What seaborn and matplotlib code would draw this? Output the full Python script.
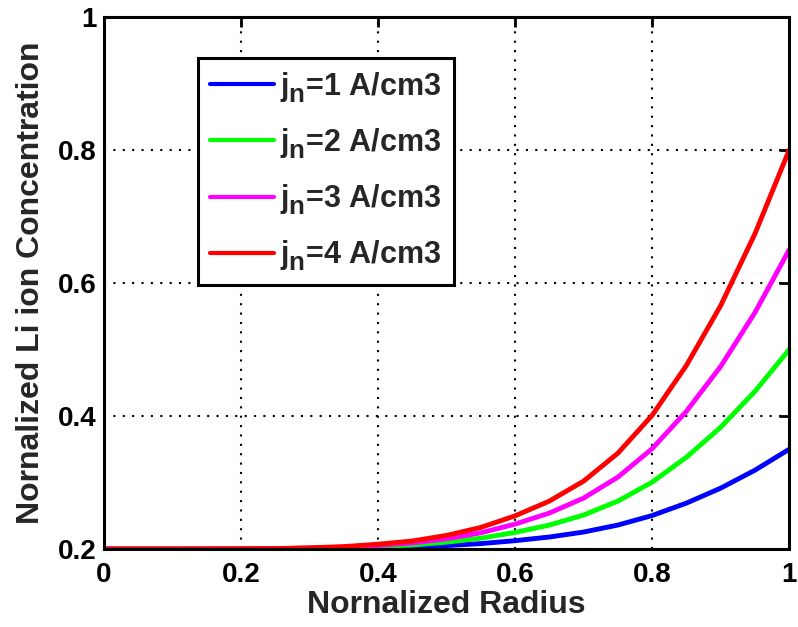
import matplotlib
matplotlib.use("Agg")
import matplotlib.pyplot as plt
import seaborn as sns
import pandas as pd

# values
radius = [0.0, 0.05, 0.10, 0.15, 0.20, 0.25, 0.30, 0.35, 0.40, 0.45, 0.50,
          0.55, 0.60, 0.65, 0.70, 0.75, 0.80, 0.85, 0.90, 0.95, 1.0]
conc_j1 = [0.2, 0.2, 0.2, 0.2, 0.2001, 0.2002, 0.2005, 0.2009, 0.2018, 0.203, 0.2051,
           0.2081, 0.2125, 0.218, 0.2255, 0.236, 0.2503, 0.269, 0.2915, 0.3185, 0.35]
conc_j2 = [0.2, 0.2, 0.2, 0.2001, 0.2002, 0.2003, 0.2009, 0.2018, 0.2036, 0.206, 0.2102,
           0.2162, 0.2249, 0.236, 0.251, 0.272, 0.3005, 0.338, 0.383, 0.437, 0.5]
conc_j3 = [0.2, 0.2, 0.2, 0.2001, 0.2002, 0.2005, 0.2014, 0.2027, 0.2054, 0.209, 0.2153,
           0.2243, 0.2374, 0.254, 0.2765, 0.308, 0.3508, 0.407, 0.4745, 0.5555, 0.65]
conc_j4 = [0.2, 0.2, 0.2, 0.2001, 0.2003, 0.2006, 0.2018, 0.2036, 0.2072, 0.212, 0.2204,
           0.2324, 0.2498, 0.272, 0.302, 0.344, 0.401, 0.476, 0.566, 0.674, 0.8]
labels = ["$j_n$=1 A/cm3", "$j_n$=2 A/cm3", "$j_n$=3 A/cm3", "$j_n$=4 A/cm3"]
colors = ["#0000ff", "#00ff00", "#ff00ff", "#ff0000"]

rows = []
for lab, vals in zip(labels, [conc_j1, conc_j2, conc_j3, conc_j4]):
    for r, c in zip(radius, vals):
        rows.append({"r": r, "c": c, "label": lab})
df = pd.DataFrame(rows)

sns.set_style("white")
plt.rcParams["font.family"] = ["Liberation Sans", "DejaVu Sans"]
plt.rcParams["font.weight"] = "bold"
plt.rcParams["mathtext.fontset"] = "custom"
plt.rcParams["mathtext.rm"] = "Liberation Sans:bold"
plt.rcParams["mathtext.it"] = "Liberation Sans:bold"
plt.rcParams["mathtext.bf"] = "Liberation Sans:bold"

# bigger, lower subscript, like the original
try:
    import matplotlib._mathtext as _mt
    _mt.SHRINK_FACTOR = 0.85
    _mt.FontConstantsBase.sub1 = 0.45
    _mt.FontConstantsBase.sub2 = 0.6
except Exception:
    pass

fig = plt.figure(figsize=(7.98, 6.27), dpi=100)
ax = fig.add_axes([0.130, 0.1244, 0.859, 0.8486])

sns.lineplot(data=df, x="r", y="c", hue="label", palette=colors,
             linewidth=3.5, ax=ax, legend=False)

ax.set_xlim(0, 1)
ax.set_ylim(0.2, 1)
ax.set_xticks([0, 0.2, 0.4, 0.6, 0.8, 1])
ax.set_xticklabels(["0", "0.2", "0.4", "0.6", "0.8", "1"])
ax.set_yticks([0.2, 0.4, 0.6, 0.8, 1])
ax.set_yticklabels(["0.2", "0.4", "0.6", "0.8", "1"])
ax.tick_params(direction="in", length=7, width=2, labelsize=20, colors="black",
               top=True, right=True)
ax.tick_params(axis="x", pad=9)
ax.tick_params(axis="y", pad=5)
ax.grid(True, linestyle=(0, (1, 3.5)), color="black", linewidth=1.5)
for s in ax.spines.values():
    s.set_visible(True)
    s.set_color("black")
    s.set_linewidth(2.2)

ax.set_xlabel("Nornalized Radius", fontsize=23, fontweight="bold", labelpad=2)
ax.set_ylabel("Nornalized Li ion Concentration", fontsize=23, fontweight="bold", labelpad=9)

handles = ax.get_lines()[:4]
leg = ax.legend(handles, labels, loc="upper left", bbox_to_anchor=(0.137, 0.923),
                borderaxespad=0, fontsize=22, handlelength=2.1, labelspacing=0.7,
                fancybox=False, framealpha=1, edgecolor="black", handletextpad=0.2,
                borderpad=0.4)
leg.get_frame().set_linewidth(2.2)
for ln in leg.get_lines():
    ln.set_linewidth(3)

fig.savefig("out.png", dpi=100)
